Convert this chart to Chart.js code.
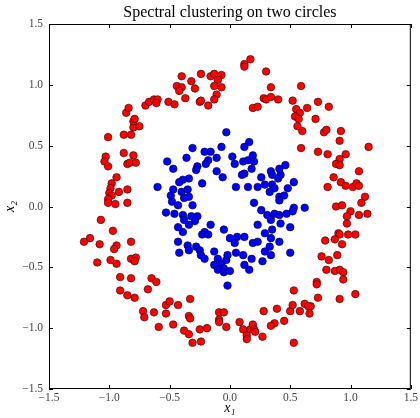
<!DOCTYPE html>
<html lang="en">
<head>
<meta charset="UTF-8">
<title>Spectral clustering on two circles</title>
<script src="https://cdn.jsdelivr.net/npm/chart.js"></script>
<style>
    html, body { margin: 0; padding: 0; background: #fff; }
    canvas { display: block; }
</style>
</head>
<body>
<canvas id="chart" width="420" height="418"></canvas>
<script>
// points, [x1, x2]
const outerRing = [
    [-1.01,0.57],[-0.88,0.59],[-0.82,0.59],[-0.80,0.65],[-0.75,0.66],[-0.80,0.70],[-0.79,0.72],[-0.86,0.77],[-0.84,0.81],[-0.70,0.83],[-0.67,0.86],[-0.63,0.88],[-0.60,0.88],[-0.61,0.85],[-0.51,0.86],
    [0.12,1.17],[0.17,1.21],[0.12,1.15],[0.30,1.11],[-0.40,1.07],[-0.24,1.09],[-0.16,1.07],[-0.13,1.09],[-0.07,1.08],[-0.10,1.04],[-0.32,1.03],[-0.44,0.99],[-0.40,0.98],[-0.42,0.95],[-0.29,0.97],[-0.13,0.99],[-0.07,0.98],[-0.11,0.92],[-0.37,0.89],[-0.46,0.84],[-0.25,0.86],[-0.24,0.87],[-0.13,0.88],[-0.18,0.83],[0.34,0.98],[0.28,0.89],[0.30,0.88],[0.34,0.90],[0.40,0.88],[0.19,0.81],[0.23,0.82],[0.52,0.87],
    [0.59,0.99],[0.73,0.86],[0.82,0.82],[0.64,0.81],[0.55,0.80],[0.58,0.77],[0.54,0.74],[0.57,0.72],[0.71,0.72],[0.56,0.66],[0.60,0.62],[0.78,0.61],[0.80,0.63],[0.92,0.62],[0.91,0.54],[0.59,0.48],[1.15,0.49],
    [-0.88,0.44],[-0.80,0.42],[-1.03,0.41],[-1.04,0.37],[-1.01,0.33],[-0.85,0.35],[-0.83,0.36],[-0.78,0.36],[-0.94,0.24],[-0.98,0.19],[-0.99,0.15],[-0.92,0.12],[-0.85,0.14],[-1.00,0.11],[-0.98,0.09],[-1.01,0.06],[-1.01,0.03],[-0.95,0.02],[-0.85,0.03],[-1.07,-0.11],[-0.97,-0.20],[-1.16,-0.26],[-1.21,-0.29],[-1.08,-0.31],[-0.94,-0.32],[-0.96,-0.35],[-0.82,-0.29],[-1.10,-0.46],[-0.99,-0.44],[-0.94,-0.47],[-0.82,-0.43],[-0.78,-0.42],[-0.79,-0.45],
    [0.73,0.45],[0.81,0.43],[0.96,0.43],[0.91,0.39],[0.88,0.35],[0.91,0.34],[1.07,0.29],[0.86,0.24],[0.92,0.20],[0.81,0.16],[0.96,0.17],[1.02,0.16],[1.05,0.19],[1.07,0.17],[1.12,0.08],[1.09,0.03],[0.88,0.00],[0.93,0.01],[1.00,-0.04],[0.97,-0.08],[1.07,-0.07],[1.14,-0.06],[0.97,-0.14],[0.90,-0.22],[0.91,-0.23],[0.98,-0.23],[1.04,-0.23],[0.87,-0.27],[0.79,-0.28],[0.93,-0.31],[0.76,-0.41],[0.82,-0.44],[0.89,-0.40],[0.80,-0.52],[0.87,-0.53],[0.91,-0.52],[0.94,-0.54],
    [-0.91,-0.58],[-0.82,-0.59],[-0.65,-0.59],[-0.61,-0.62],[-0.68,-0.68],[-0.91,-0.69],[-0.85,-0.73],[-0.79,-0.75],[-0.53,-0.81],[-0.72,-0.86],[-0.71,-0.91],[-0.63,-0.87],[-0.53,-0.88],[-0.59,-0.99],
    [-0.50,-0.78],[-0.43,-0.81],[-0.33,-0.76],[-0.34,-0.90],[-0.33,-0.92],[-0.47,-0.97],[-0.38,-1.02],[-0.34,-1.05],[-0.31,-1.12],[-0.24,-1.11],[-0.25,-1.01],[-0.19,-1.00],[-0.09,-0.87],[-0.05,-0.87],[-0.09,-0.93],[-0.09,-0.95],[-0.03,-0.99],[0.08,-0.95],[0.11,-1.01],[0.14,-1.06],[0.14,-1.09],[0.17,-1.01],[0.19,-0.97],[0.20,-1.01],[0.21,-1.03],[0.27,-1.07],[0.28,-0.86],[0.39,-0.84],[0.37,-0.96],[0.34,-0.98],[0.45,-0.94],[0.50,-0.86],[0.52,-0.81],[0.53,-0.69],
    [0.94,-0.60],[0.72,-0.62],[0.72,-0.64],[1.04,-0.72],[0.73,-0.75],[0.91,-0.76],[0.62,-0.80],[0.67,-0.82],[0.65,-0.82],[0.58,-0.86],[0.66,-0.88],[0.53,-1.12]
];

const innerRing = [
    [-0.03,0.61],[-0.07,0.49],[0.16,0.53],[0.12,0.49],[-0.31,0.48],
    [-0.52,0.37],[-0.47,0.31],[-0.36,0.40],[-0.21,0.45],[-0.16,0.45],[-0.18,0.38],[-0.20,0.35],[-0.11,0.40],[-0.27,0.33],[-0.28,0.30],[-0.11,0.29],[-0.06,0.24],[-0.34,0.23],[-0.39,0.22],[-0.42,0.20],[-0.23,0.19],
    [0.02,0.41],[0.04,0.35],[0.11,0.37],[0.15,0.38],[0.19,0.42],[0.20,0.37],[0.18,0.31],[0.12,0.27],[0.10,0.26],[0.26,0.24],[0.34,0.29],[0.35,0.26],[0.40,0.23],[0.42,0.26],[0.46,0.34],[0.41,0.31],
    [0.29,0.18],[0.35,0.18],[0.33,0.12],[0.37,0.15],[0.41,0.08],[0.41,0.05],[0.45,0.09],[0.48,0.15],[0.05,0.16],[0.15,0.16],[0.23,0.16],
    [-0.47,0.14],[-0.40,0.12],[-0.35,0.14],[-0.49,0.09],[-0.48,0.04],[-0.38,0.07],[-0.34,0.08],[-0.31,0.01],[-0.43,0.01],[-0.53,-0.05],[-0.46,-0.06],[-0.39,-0.07],[-0.38,-0.11],[-0.32,-0.08],[-0.27,-0.08],[-0.29,-0.12],[-0.34,-0.15],[-0.43,-0.17],[-0.39,-0.21],
    [-0.16,-0.15],[-0.21,-0.21],[-0.23,-0.23],[-0.18,-0.23],[-0.05,-0.19],[-0.43,-0.29],[-0.35,-0.32],[-0.28,-0.33],[-0.25,-0.36],[-0.24,-0.40],[-0.21,-0.43],[-0.42,-0.38],[-0.34,-0.36],
    [-0.13,-0.37],[-0.10,-0.43],[-0.07,-0.47],[-0.03,-0.44],[-0.02,-0.40],[-0.13,-0.48],[-0.05,-0.51],[0.05,-0.38],[0.11,-0.40],[0.12,-0.48],[0.18,-0.43],
    [0.00,-0.26],[0.04,-0.30],[0.06,-0.25],[0.12,-0.25],[0.19,-0.30],[0.23,-0.29],
    [0.20,0.03],[0.26,-0.03],[0.31,-0.07],[0.37,-0.06],[0.41,-0.07],[0.47,-0.06],[0.42,-0.14],[0.34,-0.11],[0.23,-0.15],[0.29,-0.22],[0.35,-0.19],[0.34,-0.26],[0.41,-0.29],[0.33,-0.33],[0.29,-0.37],[0.34,-0.40],[0.27,-0.45],[0.50,-0.38],[0.50,-0.17],
    [0.53,0.20],[0.53,-0.01],[0.52,-0.04],[0.62,-0.01],[-0.60,0.16],
    [-0.10,-0.52],[-0.05,-0.54],[0.00,-0.53],[0.16,-0.52],[-0.02,-0.65]
];

const tickValues = [-1.5, -1.0, -0.5, 0.0, 0.5, 1.0, 1.5];
const tickLabels = ['\u22121.5', '\u22121.0', '\u22120.5', '0.0', '0.5', '1.0', '1.5'];

const titleText = 'Spectral clustering on two circles';
const xLabel = 'x\u2081';
const yLabel = 'x\u2082';

const serif = "'Liberation Serif', 'DejaVu Serif', serif";

// frame round the plot and short inward ticks on all four sides
const frameTicks = {
    id: 'frameTicks',
    afterDatasetsDraw(chart) {
        const {ctx, chartArea: a, scales: {x, y}} = chart;
        const len = 4;
        ctx.save();
        ctx.strokeStyle = '#000';
        ctx.lineWidth = 1;
        ctx.beginPath();
        tickValues.forEach(v => {
            const px = Math.round(x.getPixelForValue(v)) + 0.5;
            ctx.moveTo(px, a.bottom); ctx.lineTo(px, a.bottom - len);
            ctx.moveTo(px, a.top); ctx.lineTo(px, a.top + len);
            const py = Math.round(y.getPixelForValue(v)) + 0.5;
            ctx.moveTo(a.left, py); ctx.lineTo(a.left + len, py);
            ctx.moveTo(a.right, py); ctx.lineTo(a.right - len, py);
        });
        ctx.stroke();
        ctx.strokeRect(a.left + 0.5, a.top + 0.5, a.right - a.left - 1, a.bottom - a.top - 1);
        ctx.restore();
    }
};

const tickOpts = {
    stepSize: 0.5,
    color: '#444',
    font: { family: serif, size: 11.5 },
    callback: v => {
        const i = tickValues.findIndex(t => Math.abs(t - v) < 1e-6);
        return i >= 0 ? tickLabels[i] : '';
    }
};

new Chart(document.getElementById('chart'), {
    type: 'scatter',
    data: {
        datasets: [
            {
                data: outerRing.map(p => ({ x: p[0], y: p[1] })),
                backgroundColor: '#ff0000',
                borderColor: '#2a0000',
                borderWidth: 0.6,
                pointRadius: 3.8
            },
            {
                data: innerRing.map(p => ({ x: p[0], y: p[1] })),
                backgroundColor: '#0000ff',
                borderColor: '#00002a',
                borderWidth: 0.6,
                pointRadius: 3.8
            }
        ]
    },
    options: {
        responsive: false,
        animation: false,
        devicePixelRatio: 1,
        layout: { padding: { left: 0, right: 9, top: 0, bottom: 0 } },
        plugins: {
            legend: { display: false },
            tooltip: { enabled: false },
            title: {
                display: true,
                fullSize: false,
                text: titleText,
                color: '#000',
                font: { family: serif, size: 16, weight: 'normal' },
                padding: { top: 3, bottom: 1.8 }
            }
        },
        scales: {
            x: {
                type: 'linear',
                min: -1.5,
                max: 1.5,
                grid: { display: false, drawTicks: false },
                border: { display: false },
                ticks: { ...tickOpts, padding: 2 },
                title: {
                    display: true,
                    text: xLabel,
                    color: '#000',
                    font: { family: serif, size: 14, style: 'italic' },
                    padding: { top: 0, bottom: 1 }
                },
                afterFit: s => { s.height = 29; }
            },
            y: {
                type: 'linear',
                min: -1.5,
                max: 1.5,
                grid: { display: false, drawTicks: false },
                border: { display: false },
                ticks: { ...tickOpts, padding: 6 },
                title: {
                    display: true,
                    text: yLabel,
                    color: '#000',
                    font: { family: serif, size: 14, style: 'italic' },
                    padding: { top: 2, bottom: 0 }
                },
                afterFit: s => { s.width = 49; }
            }
        }
    },
    plugins: [frameTicks]
});
</script>
</body>
</html>
